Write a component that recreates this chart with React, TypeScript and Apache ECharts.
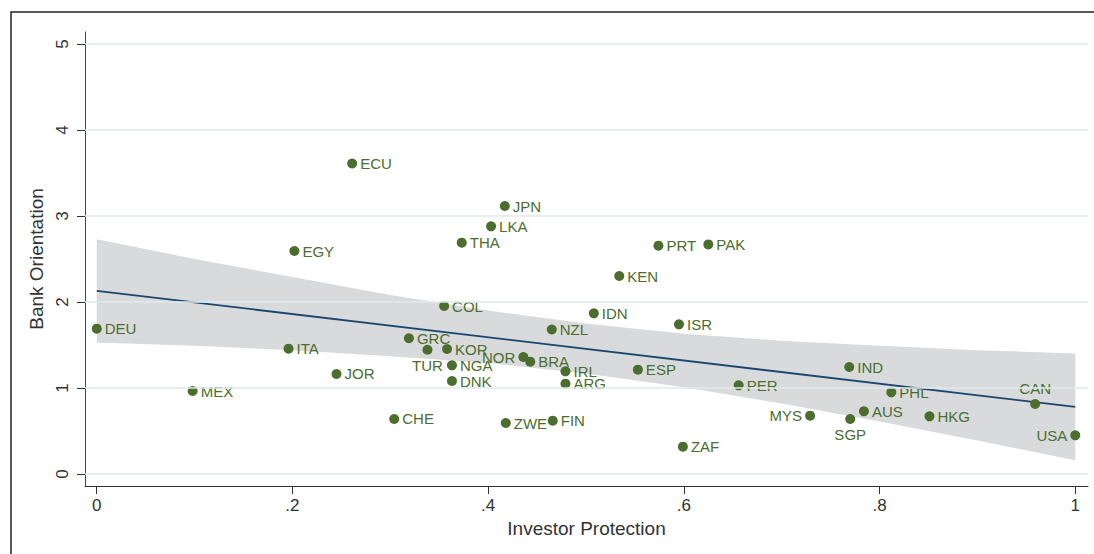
import React, { useEffect, useRef } from "react";
import * as echarts from "echarts";

const countries = ["DEU","MEX","ITA","EGY","ECU","JPN","LKA","THA","COL","IDN","NZL","GRC","TUR","KOR","NGA","DNK","NOR","BRA","IRL","ARG","ESP","JOR","CHE","ZWE","FIN","PRT","PAK","KEN","ISR","PER","IND","PHL","CAN","AUS","SGP","MYS","HKG","USA","ZAF"];
const investorProtection = [0.0,0.098,0.196,0.202,0.261,0.417,0.403,0.373,0.355,0.508,0.465,0.319,0.338,0.358,0.363,0.363,0.436,0.443,0.479,0.479,0.553,0.245,0.304,0.418,0.466,0.574,0.625,0.534,0.595,0.656,0.769,0.812,0.959,0.784,0.770,0.729,0.851,1.0,0.599];
const bankOrientation = [1.69,0.965,1.457,2.593,3.61,3.116,2.88,2.69,1.953,1.868,1.68,1.578,1.445,1.453,1.264,1.081,1.36,1.306,1.194,1.05,1.213,1.163,0.64,0.593,0.62,2.655,2.67,2.302,1.74,1.031,1.244,0.95,0.814,0.729,0.64,0.678,0.671,0.45,0.318];
const labelPositions: Record<string, string> = { TUR: "bottom", SGP: "bottom", CAN: "top", NOR: "left", MYS: "left", USA: "left" };

const bandX = [0,0.1,0.2,0.3,0.4,0.5,0.6,0.7,0.8,0.9,1.0];
const bandUpper = [2.73,2.50,2.29,2.08,1.90,1.75,1.63,1.55,1.49,1.44,1.40];
const bandLower = [1.53,1.49,1.44,1.37,1.29,1.17,1.01,0.82,0.61,0.39,0.16];
const fitX = [0,1];
const fitY = [2.13,0.78];

const xTicks = [0,0.2,0.4,0.6,0.8,1];
const xTickLabels = ["0",".2",".4",".6",".8","1"];
const yTicks = [0,1,2,3,4,5];

const GREEN = "#4b6e2e";
const TEXT = "#333333";

export default function App() {
  const ref = useRef<HTMLDivElement>(null);
  useEffect(() => {
    if (!ref.current) return;
    const chart = echarts.init(ref.current, null, { renderer: "svg" });
    const font = "'Liberation Sans', Arial, Helvetica, sans-serif";
    chart.setOption({
      animation: false,
      textStyle: { fontFamily: font },
      graphic: [
        { type: "rect", shape: { x: 11, y: 12, width: 1200, height: 700 }, style: { fill: "none", stroke: "#222", lineWidth: 1.5 }, silent: true },
      ],
      grid: { left: 85, right: 6, top: 32, bottom: 68, containLabel: false },
      xAxis: {
        type: "value",
        min: -0.012,
        max: 1.013,
        name: "Investor Protection",
        nameLocation: "middle",
        nameGap: 32,
        nameTextStyle: { fontSize: 19, color: TEXT, fontFamily: font },
        axisLine: { show: true, onZero: false, lineStyle: { color: "#333", width: 1 } },
        axisTick: { show: true, length: 8, customValues: xTicks, lineStyle: { color: "#333" } },
        axisLabel: {
          customValues: xTicks,
          fontSize: 17,
          color: TEXT,
          margin: 11,
          fontFamily: font,
          formatter: (v: number) => { const i = xTicks.findIndex((t) => Math.abs(t - v) < 1e-6); return i >= 0 ? xTickLabels[i] : ""; },
        },
        splitLine: { show: false },
      },
      yAxis: {
        type: "value",
        min: -0.1395,
        max: 5.1395,
        name: "Bank Orientation",
        nameLocation: "middle",
        nameGap: 33,
        nameTextStyle: { fontSize: 19, color: TEXT, fontFamily: font },
        axisLine: { show: true, onZero: false, lineStyle: { color: "#444", width: 1 } },
        axisTick: { show: true, length: 8, customValues: yTicks, lineStyle: { color: "#333" } },
        axisLabel: { customValues: yTicks, rotate: 90, fontSize: 17, color: TEXT, margin: 14, fontFamily: font },
        splitLine: { show: false },
      },
      series: [
        {
          type: "line",
          data: [],
          z: 0,
          silent: true,
          markLine: {
            silent: true,
            symbol: ["none", "none"],
            label: { show: false },
            lineStyle: { color: "#e0eaee", width: 1.5, type: "solid" },
            data: yTicks.map((v) => ({ yAxis: v })),
          },
        },
        {
          type: "custom",
          z: 1,
          silent: true,
          data: [[0, 0]],
          renderItem: (params: any, api: any) => {
            const pts: number[][] = [];
            for (let i = 0; i < bandX.length; i++) pts.push(api.coord([bandX[i], bandUpper[i]]));
            for (let i = bandX.length - 1; i >= 0; i--) pts.push(api.coord([bandX[i], bandLower[i]]));
            return { type: "polygon", shape: { points: pts }, style: { fill: "#d9dadc", stroke: "none" } };
          },
        },
        {
          type: "line",
          z: 2,
          silent: true,
          symbol: "none",
          data: fitX.map((x, i) => [x, fitY[i]]),
          lineStyle: { color: "#1a476f", width: 1.8 },
        },
        {
          type: "scatter",
          z: 3,
          symbolSize: 10,
          itemStyle: { color: GREEN, opacity: 1 },
          label: {
            show: true,
            position: "right",
            distance: 3,
            formatter: "{b}",
            fontSize: 15,
            color: GREEN,
            fontFamily: font,
          },
          data: countries.map((c, i) => ({
            name: c,
            value: [investorProtection[i], bankOrientation[i]],
            label: labelPositions[c] ? { position: labelPositions[c] } : undefined,
          })),
        },
      ],
    });
    return () => chart.dispose();
  }, []);
  return <div ref={ref} style={{ position: "fixed", left: 0, top: 0, width: 1094, height: 554, background: "#fff" }} />;
}
